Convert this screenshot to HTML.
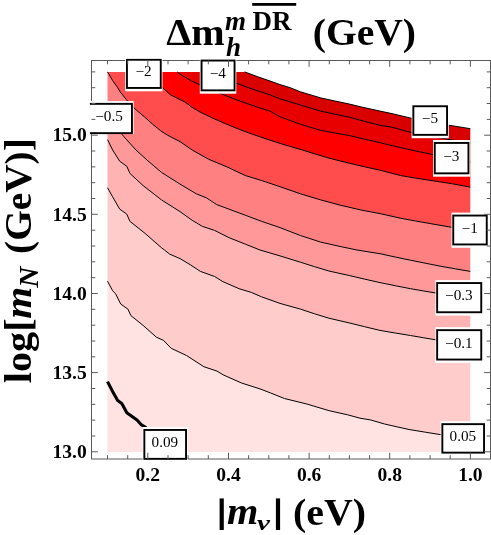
<!DOCTYPE html>
<html><head><meta charset="utf-8"><title>Contour plot</title>
<style>html,body{margin:0;padding:0;background:#fff}body{width:491px;height:535px;position:relative;overflow:hidden;font-family:"Liberation Serif",serif}</style>
</head><body>
<svg width="491" height="535" viewBox="0 0 491 535" style="position:absolute;left:0;top:0;will-change:transform">
<defs><clipPath id="cp"><rect x="107.5" y="71.9" width="362.8" height="380.1"/></clipPath></defs>
<rect x="0" y="0" width="491" height="535" fill="#fff"/>
<g>
<polygon points="107.5,452.0 470.3,452.0 470.3,439.0 456.0,436.9 441.6,434.8 425.4,432.2 409.1,429.5 396.9,426.8 384.6,424.0 370.4,419.9 360.0,418.2 347.6,414.8 329.2,410.7 306.8,404.0 284.4,398.5 270.2,392.8 260.0,388.9 241.5,383.0 223.1,374.8 217.0,371.1 203.8,366.7 186.5,355.5 171.2,348.3 163.5,340.4 156.4,337.2 143.1,325.4 130.9,315.6 127.9,309.1 120.7,304.0 115.6,293.8 112.6,290.7 107.5,281.2" fill="#ffe2e2"/>
<polygon points="107.5,281.2 112.6,290.7 115.6,293.8 120.7,304.0 127.9,309.1 130.9,315.6 143.1,325.4 156.4,337.2 163.5,340.4 171.2,348.3 186.5,355.5 203.8,366.7 217.0,371.1 223.1,374.8 241.5,383.0 260.0,388.9 270.2,392.8 284.4,398.5 306.8,404.0 329.2,410.7 347.6,414.8 360.0,418.2 370.4,419.9 384.6,424.0 396.9,426.8 409.1,429.5 425.4,432.2 441.6,434.8 456.0,436.9 470.3,439.0 470.3,345.0 453.6,342.6 437.0,340.0 423.8,337.8 410.5,335.5 395.2,333.0 380.0,330.4 364.6,326.7 349.2,322.9 328.9,318.2 314.6,313.8 300.4,309.1 280.0,303.4 261.5,296.8 251.3,292.4 239.1,288.7 222.8,281.6 214.6,276.5 200.4,271.4 190.2,264.7 180.0,258.6 169.6,254.1 164.5,250.0 161.5,247.8 145.2,233.5 129.9,221.3 126.8,214.2 119.7,209.1 112.6,196.8 107.5,187.7" fill="#ffcccc"/>
<polygon points="107.5,187.7 112.6,196.8 119.7,209.1 126.8,214.2 129.9,221.3 145.2,233.5 161.5,247.8 164.5,250.0 169.6,254.1 180.0,258.6 190.2,264.7 200.4,271.4 214.6,276.5 222.8,281.6 239.1,288.7 251.3,292.4 261.5,296.8 280.0,303.4 300.4,309.1 314.6,313.8 328.9,318.2 349.2,322.9 364.6,326.7 380.0,330.4 395.2,333.0 410.5,335.5 423.8,337.8 437.0,340.0 453.6,342.6 470.3,345.0 470.3,298.5 453.6,295.9 437.0,293.2 423.8,291.0 410.5,288.7 395.2,285.7 380.0,282.6 364.6,279.1 349.2,275.5 328.9,271.0 314.6,266.7 300.4,262.2 280.0,255.9 260.0,250.0 245.2,244.1 228.9,237.6 214.6,230.4 202.4,226.4 192.2,220.3 180.0,211.6 161.5,199.9 143.1,185.6 129.9,173.4 126.8,166.3 119.7,161.2 112.6,150.0 107.5,139.6" fill="#ffb3b3"/>
<polygon points="107.5,139.6 112.6,150.0 119.7,161.2 126.8,166.3 129.9,173.4 143.1,185.6 161.5,199.9 180.0,211.6 192.2,220.3 202.4,226.4 214.6,230.4 228.9,237.6 245.2,244.1 260.0,250.0 280.0,255.9 300.4,262.2 314.6,266.7 328.9,271.0 349.2,275.5 364.6,279.1 380.0,282.6 395.2,285.7 410.5,288.7 423.8,291.0 437.0,293.2 453.6,295.9 470.3,298.5 470.3,271.4 455.7,268.9 441.1,266.3 425.8,263.3 410.5,260.2 395.2,257.0 380.0,253.7 357.0,250.0 341.1,246.7 320.7,242.1 300.4,235.5 280.0,227.6 261.5,221.3 245.2,215.2 228.9,209.1 216.7,204.6 206.5,197.9 196.3,193.8 180.0,184.1 161.5,172.4 147.2,160.2 136.0,150.0 123.8,136.6 118.0,129.2 112.6,121.7 107.5,113.2" fill="#ff9999"/>
<polygon points="107.5,113.2 112.6,121.7 118.0,129.2 123.8,136.6 136.0,150.0 147.2,160.2 161.5,172.4 180.0,184.1 196.3,193.8 206.5,197.9 216.7,204.6 228.9,209.1 245.2,215.2 261.5,221.3 280.0,227.6 300.4,235.5 320.7,242.1 341.1,246.7 357.0,250.0 380.0,253.7 395.2,257.0 410.5,260.2 425.8,263.3 441.1,266.3 455.7,268.9 470.3,271.4 470.3,230.5 452.3,227.4 430.9,223.7 415.6,221.0 400.4,218.2 380.0,213.6 361.5,210.1 341.1,205.4 320.7,199.9 300.4,193.8 280.0,186.7 261.5,180.5 245.2,175.5 227.9,167.3 208.5,159.2 192.2,150.0 180.0,141.6 167.2,135.0 160.7,130.8 152.6,124.2 144.4,116.9 133.0,107.1 126.5,99.8 120.0,91.7 117.7,87.7 112.6,80.5 107.5,71.9" fill="#ff8080"/>
<polygon points="107.5,71.9 112.6,80.5 117.7,87.7 120.0,91.7 126.5,99.8 133.0,107.1 144.4,116.9 152.6,124.2 160.7,130.8 167.2,135.0 180.0,141.6 192.2,150.0 208.5,159.2 227.9,167.3 245.2,175.5 261.5,180.5 280.0,186.7 300.4,193.8 320.7,199.9 341.1,205.4 361.5,210.1 380.0,213.6 400.4,218.2 415.6,221.0 430.9,223.7 452.3,227.4 470.3,230.5 470.3,187.1 451.3,183.6 430.9,180.5 415.6,178.1 400.4,175.5 380.0,170.2 364.6,166.8 349.2,163.2 328.9,158.1 315.6,154.1 302.4,150.0 289.6,146.3 276.8,142.4 264.0,138.2 251.2,133.8 238.4,129.0 225.6,123.8 212.8,118.2 200.0,112.0 191.7,107.1 185.2,102.2 170.5,94.9 161.5,86.8 142.1,71.9 107.5,71.9" fill="#ff4d4d"/>
<polygon points="142.1,71.9 161.5,86.8 170.5,94.9 185.2,102.2 191.7,107.1 200.0,112.0 212.8,118.2 225.6,123.8 238.4,129.0 251.2,133.8 264.0,138.2 276.8,142.4 289.6,146.3 302.4,150.0 315.6,154.1 328.9,158.1 349.2,163.2 364.6,166.8 380.0,170.2 400.4,175.5 415.6,178.1 430.9,180.5 451.3,183.6 470.3,187.1 470.3,162.0 458.1,159.7 446.0,157.3 433.8,154.8 419.5,151.8 405.3,148.7 391.0,145.4 380.0,142.7 364.6,139.2 349.2,135.5 334.9,133.0 320.7,130.4 300.4,124.3 280.0,116.8 270.0,111.2 257.5,107.2 245.0,102.9 232.5,98.3 220.0,93.3 200.6,85.1 191.7,81.1 181.9,75.4 177.0,71.9" fill="#ff0000"/>
<polygon points="177.0,71.9 181.9,75.4 191.7,81.1 200.6,85.1 220.0,93.3 232.5,98.3 245.0,102.9 257.5,107.2 270.0,111.2 280.0,116.8 300.4,124.3 320.7,130.4 334.9,133.0 349.2,135.5 364.6,139.2 380.0,142.7 391.0,145.4 405.3,148.7 419.5,151.8 433.8,154.8 446.0,157.3 458.1,159.7 470.3,162.0 470.3,143.0 455.8,140.6 441.4,138.1 426.9,135.5 412.4,132.8 391.0,127.0 380.0,125.4 364.6,121.4 349.2,117.2 334.9,114.2 320.7,111.1 300.4,105.0 280.0,98.9 270.0,94.9 252.4,89.1 234.8,82.7 210.9,71.9" fill="#e80000"/>
<polygon points="210.9,71.9 234.8,82.7 252.4,89.1 270.0,94.9 280.0,98.9 300.4,105.0 320.7,111.1 334.9,114.2 349.2,117.2 364.6,121.4 380.0,125.4 391.0,127.0 412.4,132.8 426.9,135.5 441.4,138.1 455.8,140.6 470.3,143.0 470.3,128.7 447.6,125.0 430.0,121.8 412.4,118.5 391.0,113.4 380.0,111.1 361.5,107.0 349.2,104.0 334.9,101.0 320.7,97.9 300.4,91.8 290.2,87.7 280.0,84.6 270.0,81.0 257.3,76.6 244.6,71.9" fill="#d90000"/>
<polyline points="107.5,381.6 112.6,391.4 117.7,400.5 121.8,403.6 126.8,412.8 137.0,419.9 141.1,424.6 145.2,427.0 150.0,432.2 156.0,437.0" fill="none" stroke="#000" stroke-width="3.1" stroke-linejoin="round"/>
<polyline points="107.5,281.2 112.6,290.7 115.6,293.8 120.7,304.0 127.9,309.1 130.9,315.6 143.1,325.4 156.4,337.2 163.5,340.4 171.2,348.3 186.5,355.5 203.8,366.7 217.0,371.1 223.1,374.8 241.5,383.0 260.0,388.9 270.2,392.8 284.4,398.5 306.8,404.0 329.2,410.7 347.6,414.8 360.0,418.2 370.4,419.9 384.6,424.0 396.9,426.8 409.1,429.5 425.4,432.2 441.6,434.8 456.0,436.9 470.3,439.0" fill="none" stroke="#000" stroke-width="1.0" stroke-linejoin="round"/>
<polyline points="107.5,187.7 112.6,196.8 119.7,209.1 126.8,214.2 129.9,221.3 145.2,233.5 161.5,247.8 164.5,250.0 169.6,254.1 180.0,258.6 190.2,264.7 200.4,271.4 214.6,276.5 222.8,281.6 239.1,288.7 251.3,292.4 261.5,296.8 280.0,303.4 300.4,309.1 314.6,313.8 328.9,318.2 349.2,322.9 364.6,326.7 380.0,330.4 395.2,333.0 410.5,335.5 423.8,337.8 437.0,340.0 453.6,342.6 470.3,345.0" fill="none" stroke="#000" stroke-width="1.0" stroke-linejoin="round"/>
<polyline points="107.5,139.6 112.6,150.0 119.7,161.2 126.8,166.3 129.9,173.4 143.1,185.6 161.5,199.9 180.0,211.6 192.2,220.3 202.4,226.4 214.6,230.4 228.9,237.6 245.2,244.1 260.0,250.0 280.0,255.9 300.4,262.2 314.6,266.7 328.9,271.0 349.2,275.5 364.6,279.1 380.0,282.6 395.2,285.7 410.5,288.7 423.8,291.0 437.0,293.2 453.6,295.9 470.3,298.5" fill="none" stroke="#000" stroke-width="1.0" stroke-linejoin="round"/>
<polyline points="107.5,113.2 112.6,121.7 118.0,129.2 123.8,136.6 136.0,150.0 147.2,160.2 161.5,172.4 180.0,184.1 196.3,193.8 206.5,197.9 216.7,204.6 228.9,209.1 245.2,215.2 261.5,221.3 280.0,227.6 300.4,235.5 320.7,242.1 341.1,246.7 357.0,250.0 380.0,253.7 395.2,257.0 410.5,260.2 425.8,263.3 441.1,266.3 455.7,268.9 470.3,271.4" fill="none" stroke="#000" stroke-width="1.0" stroke-linejoin="round"/>
<polyline points="107.5,71.9 112.6,80.5 117.7,87.7 120.0,91.7 126.5,99.8 133.0,107.1 144.4,116.9 152.6,124.2 160.7,130.8 167.2,135.0 180.0,141.6 192.2,150.0 208.5,159.2 227.9,167.3 245.2,175.5 261.5,180.5 280.0,186.7 300.4,193.8 320.7,199.9 341.1,205.4 361.5,210.1 380.0,213.6 400.4,218.2 415.6,221.0 430.9,223.7 452.3,227.4 470.3,230.5" fill="none" stroke="#000" stroke-width="1.0" stroke-linejoin="round"/>
<polyline points="142.1,71.9 161.5,86.8 170.5,94.9 185.2,102.2 191.7,107.1 200.0,112.0 212.8,118.2 225.6,123.8 238.4,129.0 251.2,133.8 264.0,138.2 276.8,142.4 289.6,146.3 302.4,150.0 315.6,154.1 328.9,158.1 349.2,163.2 364.6,166.8 380.0,170.2 400.4,175.5 415.6,178.1 430.9,180.5 451.3,183.6 470.3,187.1" fill="none" stroke="#000" stroke-width="1.0" stroke-linejoin="round"/>
<polyline points="177.0,71.9 181.9,75.4 191.7,81.1 200.6,85.1 220.0,93.3 232.5,98.3 245.0,102.9 257.5,107.2 270.0,111.2 280.0,116.8 300.4,124.3 320.7,130.4 334.9,133.0 349.2,135.5 364.6,139.2 380.0,142.7 391.0,145.4 405.3,148.7 419.5,151.8 433.8,154.8 446.0,157.3 458.1,159.7 470.3,162.0" fill="none" stroke="#000" stroke-width="1.0" stroke-linejoin="round"/>
<polyline points="210.9,71.9 234.8,82.7 252.4,89.1 270.0,94.9 280.0,98.9 300.4,105.0 320.7,111.1 334.9,114.2 349.2,117.2 364.6,121.4 380.0,125.4 391.0,127.0 412.4,132.8 426.9,135.5 441.4,138.1 455.8,140.6 470.3,143.0" fill="none" stroke="#000" stroke-width="1.0" stroke-linejoin="round"/>
<polyline points="244.6,71.9 257.3,76.6 270.0,81.0 280.0,84.6 290.2,87.7 300.4,91.8 320.7,97.9 334.9,101.0 349.2,104.0 361.5,107.0 380.0,111.1 391.0,113.4 412.4,118.5 430.0,121.8 447.6,125.0 470.3,128.7" fill="none" stroke="#000" stroke-width="1.0" stroke-linejoin="round"/>
</g>
<rect x="91.5" y="60.5" width="399.0" height="398.5" fill="none" stroke="#5a5a5a" stroke-width="1"/>
<defs><clipPath id="lc"><rect x="89.9" y="58.6" width="402" height="402"/></clipPath></defs>
<g clip-path="url(#lc)">
<rect x="125.2" y="56.8" width="37.3" height="34.5" fill="#fff"/>
<rect x="126.95" y="59.75" width="33.80" height="28.20" fill="#fff" stroke="#000" stroke-width="1.9"/>
<text transform="translate(143.5,76.4) scale(1.05,1)" text-anchor="middle" font-family="Liberation Serif, serif" font-size="14.5" fill="#000">−2</text>
<rect x="199.8" y="57.6" width="36.5" height="36.1" fill="#fff"/>
<rect x="201.55" y="60.55" width="33.00" height="29.80" fill="#fff" stroke="#000" stroke-width="1.9"/>
<text transform="translate(217.8,78.0) scale(1.05,1)" text-anchor="middle" font-family="Liberation Serif, serif" font-size="14.5" fill="#000">−4</text>
<rect x="84.9" y="101.1" width="48.8" height="33.0" fill="#fff"/>
<rect x="86.65" y="103.85" width="45.30" height="29.30" fill="#fff" stroke="#000" stroke-width="1.9"/>
<text transform="translate(109.0,121.1) scale(1.05,1)" text-anchor="middle" font-family="Liberation Serif, serif" font-size="14.5" fill="#000">−0.5</text>
<rect x="411.6" y="103.3" width="37.2" height="34.9" fill="#fff"/>
<rect x="413.35" y="106.25" width="33.70" height="28.60" fill="#fff" stroke="#000" stroke-width="1.9"/>
<text transform="translate(429.9,123.2) scale(1.05,1)" text-anchor="middle" font-family="Liberation Serif, serif" font-size="14.5" fill="#000">−5</text>
<rect x="433.0" y="140.0" width="37.2" height="36.7" fill="#fff"/>
<rect x="434.75" y="142.95" width="33.70" height="30.40" fill="#fff" stroke="#000" stroke-width="1.9"/>
<text transform="translate(451.3,160.8) scale(1.05,1)" text-anchor="middle" font-family="Liberation Serif, serif" font-size="14.5" fill="#000">−3</text>
<rect x="451.5" y="212.6" width="37.0" height="35.2" fill="#fff"/>
<rect x="453.25" y="215.55" width="33.50" height="28.90" fill="#fff" stroke="#000" stroke-width="1.9"/>
<text transform="translate(469.7,232.6) scale(1.05,1)" text-anchor="middle" font-family="Liberation Serif, serif" font-size="14.5" fill="#000">−1</text>
<rect x="435.4" y="280.1" width="47.6" height="35.5" fill="#fff"/>
<rect x="437.15" y="283.05" width="44.10" height="29.20" fill="#fff" stroke="#000" stroke-width="1.9"/>
<text transform="translate(458.9,300.2) scale(1.05,1)" text-anchor="middle" font-family="Liberation Serif, serif" font-size="14.5" fill="#000">−0.3</text>
<rect x="435.4" y="327.2" width="47.6" height="35.7" fill="#fff"/>
<rect x="437.15" y="330.15" width="44.10" height="29.40" fill="#fff" stroke="#000" stroke-width="1.9"/>
<text transform="translate(458.9,347.5) scale(1.05,1)" text-anchor="middle" font-family="Liberation Serif, serif" font-size="14.5" fill="#000">−0.1</text>
<rect x="440.6" y="421.2" width="45.2" height="34.8" fill="#fff"/>
<rect x="442.35" y="424.15" width="41.70" height="28.50" fill="#fff" stroke="#000" stroke-width="1.9"/>
<text transform="translate(462.9,441.0) scale(1.05,1)" text-anchor="middle" font-family="Liberation Serif, serif" font-size="14.5" fill="#000">0.05</text>
<rect x="142.6" y="427.0" width="45.2" height="35.2" fill="#fff"/>
<rect x="144.35" y="429.95" width="41.70" height="28.90" fill="#fff" stroke="#000" stroke-width="1.9"/>
<text transform="translate(164.9,447.0) scale(1.05,1)" text-anchor="middle" font-family="Liberation Serif, serif" font-size="14.5" fill="#000">0.09</text>
</g>
<path d="M107.5 459.0L107.5 455.2M107.5 60.5L107.5 64.3M127.7 459.0L127.7 455.2M127.7 60.5L127.7 64.3M147.8 459.0L147.8 452.7M147.8 60.5L147.8 66.8M168.0 459.0L168.0 455.2M168.0 60.5L168.0 64.3M188.1 459.0L188.1 455.2M188.1 60.5L188.1 64.3M208.3 459.0L208.3 455.2M208.3 60.5L208.3 64.3M228.5 459.0L228.5 452.7M228.5 60.5L228.5 66.8M248.6 459.0L248.6 455.2M248.6 60.5L248.6 64.3M268.8 459.0L268.8 455.2M268.8 60.5L268.8 64.3M288.9 459.0L288.9 455.2M288.9 60.5L288.9 64.3M309.1 459.0L309.1 452.7M309.1 60.5L309.1 66.8M329.3 459.0L329.3 455.2M329.3 60.5L329.3 64.3M349.4 459.0L349.4 455.2M349.4 60.5L349.4 64.3M369.6 459.0L369.6 455.2M369.6 60.5L369.6 64.3M389.7 459.0L389.7 452.7M389.7 60.5L389.7 66.8M409.9 459.0L409.9 455.2M409.9 60.5L409.9 64.3M430.1 459.0L430.1 455.2M430.1 60.5L430.1 64.3M450.2 459.0L450.2 455.2M450.2 60.5L450.2 64.3M470.4 459.0L470.4 452.7M470.4 60.5L470.4 66.8M91.5 451.8L97.8 451.8M490.5 451.8L484.2 451.8M91.5 436.0L95.3 436.0M490.5 436.0L486.7 436.0M91.5 420.1L95.3 420.1M490.5 420.1L486.7 420.1M91.5 404.3L95.3 404.3M490.5 404.3L486.7 404.3M91.5 388.5L95.3 388.5M490.5 388.5L486.7 388.5M91.5 372.6L97.8 372.6M490.5 372.6L484.2 372.6M91.5 356.8L95.3 356.8M490.5 356.8L486.7 356.8M91.5 341.0L95.3 341.0M490.5 341.0L486.7 341.0M91.5 325.2L95.3 325.2M490.5 325.2L486.7 325.2M91.5 309.3L95.3 309.3M490.5 309.3L486.7 309.3M91.5 293.5L97.8 293.5M490.5 293.5L484.2 293.5M91.5 277.7L95.3 277.7M490.5 277.7L486.7 277.7M91.5 261.8L95.3 261.8M490.5 261.8L486.7 261.8M91.5 246.0L95.3 246.0M490.5 246.0L486.7 246.0M91.5 230.2L95.3 230.2M490.5 230.2L486.7 230.2M91.5 214.3L97.8 214.3M490.5 214.3L484.2 214.3M91.5 198.5L95.3 198.5M490.5 198.5L486.7 198.5M91.5 182.7L95.3 182.7M490.5 182.7L486.7 182.7M91.5 166.9L95.3 166.9M490.5 166.9L486.7 166.9M91.5 151.0L95.3 151.0M490.5 151.0L486.7 151.0M91.5 135.2L97.8 135.2M490.5 135.2L484.2 135.2M91.5 119.4L95.3 119.4M490.5 119.4L486.7 119.4M91.5 103.5L95.3 103.5M490.5 103.5L486.7 103.5M91.5 87.7L95.3 87.7M490.5 87.7L486.7 87.7M91.5 71.9L95.3 71.9M490.5 71.9L486.7 71.9" stroke="#5a5a5a" stroke-width="1" fill="none"/>
<text transform="translate(147.8,480.6) scale(1.03,1)" text-anchor="middle" font-family="Liberation Serif, serif" font-weight="bold" font-size="19">0.2</text>
<text transform="translate(228.5,480.6) scale(1.03,1)" text-anchor="middle" font-family="Liberation Serif, serif" font-weight="bold" font-size="19">0.4</text>
<text transform="translate(309.1,480.6) scale(1.03,1)" text-anchor="middle" font-family="Liberation Serif, serif" font-weight="bold" font-size="19">0.6</text>
<text transform="translate(389.7,480.6) scale(1.03,1)" text-anchor="middle" font-family="Liberation Serif, serif" font-weight="bold" font-size="19">0.8</text>
<text transform="translate(470.4,480.6) scale(1.03,1)" text-anchor="middle" font-family="Liberation Serif, serif" font-weight="bold" font-size="19">1.0</text>
<text transform="translate(86.7,458.0) scale(1.03,1)" text-anchor="end" font-family="Liberation Serif, serif" font-weight="bold" font-size="19">13.0</text>
<text transform="translate(86.7,378.8) scale(1.03,1)" text-anchor="end" font-family="Liberation Serif, serif" font-weight="bold" font-size="19">13.5</text>
<text transform="translate(86.7,299.7) scale(1.03,1)" text-anchor="end" font-family="Liberation Serif, serif" font-weight="bold" font-size="19">14.0</text>
<text transform="translate(86.7,220.5) scale(1.03,1)" text-anchor="end" font-family="Liberation Serif, serif" font-weight="bold" font-size="19">14.5</text>
<text transform="translate(86.7,141.4) scale(1.03,1)" text-anchor="end" font-family="Liberation Serif, serif" font-weight="bold" font-size="19">15.0</text>
<text transform="translate(166.25,44.50) scale(1.0540,1)" font-family="Liberation Serif, serif" font-weight="bold" font-size="38">Δm</text>
<text transform="translate(225.00,29.60) scale(1.0000,1)" font-family="Liberation Serif, serif" font-weight="bold" font-style="italic" font-size="27">m</text>
<text transform="translate(226.00,56.10) scale(1.0000,1)" font-family="Liberation Serif, serif" font-weight="bold" font-style="italic" font-size="27">h</text>
<text transform="translate(252.60,29.60) scale(1.0000,1)" font-family="Liberation Serif, serif" font-weight="bold" font-size="27">DR</text>
<rect x="252.2" y="3.0" width="44" height="2.8" fill="#000"/>
<text transform="translate(312.70,44.50) scale(1.0420,1)" font-family="Liberation Serif, serif" font-weight="bold" font-size="38">(GeV)</text>
<rect x="219.6" y="498.4" width="4.2" height="31.6" fill="#000"/>
<rect x="275.9" y="498.4" width="4.2" height="31.6" fill="#000"/>
<text transform="translate(226.90,524.20) scale(1.0600,1)" font-family="Liberation Serif, serif" font-weight="bold" font-style="italic" font-size="38">m</text>
<text transform="translate(257.00,530.00) scale(1.3500,1)" font-family="Liberation Serif, serif" font-weight="bold" font-style="italic" font-size="21.5">ν</text>
<text transform="translate(293.10,524.50) scale(1.0480,1)" font-family="Liberation Serif, serif" font-weight="bold" font-size="38">(eV)</text>
<g transform="translate(30.7,382) rotate(-90)">
<text transform="translate(-1.30,0.00) scale(1.0600,1)" font-family="Liberation Serif, serif" font-weight="bold" font-size="38">log[</text>
<text transform="translate(63.20,0.00) scale(1.0800,1)" font-family="Liberation Serif, serif" font-weight="bold" font-style="italic" font-size="38">m</text>
<text transform="translate(94.30,7.00) scale(1.0800,1)" font-family="Liberation Serif, serif" font-weight="bold" font-style="italic" font-size="27">N</text>
<text transform="translate(128.10,0.00) scale(1.0345,1)" font-family="Liberation Serif, serif" font-weight="bold" font-size="38">(GeV)]</text>
</g>
</svg>
</body></html>
